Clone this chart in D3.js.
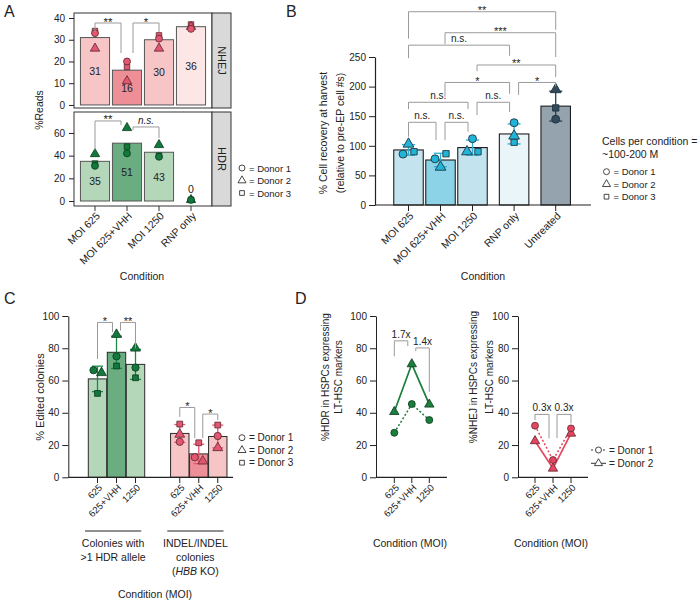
<!DOCTYPE html>
<html>
<head>
<meta charset="utf-8">
<script src="https://cdn.jsdelivr.net/npm/d3@7/dist/d3.min.js"></script>
<style>
html,body{margin:0;padding:0;background:#fff;}
svg{display:block;}
svg text{font-family:"Liberation Sans",Arial,Helvetica,sans-serif;fill:#222;}
</style>
</head>
<body>
<svg id="fig" width="700" height="602"></svg>
<script>
// ======================= DATA =======================
const donorLabels = ["= Donor 1", "= Donor 2", "= Donor 3"];

// ---- Panel A ----
const conditionsA = ["MOI 625", "MOI 625+VHH", "MOI 1250", "RNP only"];
const facetsA = ["NHEJ", "HDR"];
const nhejMeanA = [31, 16, 30, 36];
const nhejDonor1A = [33, 20, 30.5, 35];
const nhejDonor2A = [26, 11, 26, 36];
const nhejDonor3A = [34, 17.5, 32, 37];
const hdrMeanA = [35, 51, 43, 0];
const hdrDonor1A = [31, 42, 39, 1];
const hdrDonor2A = [41.5, 64.5, 49.5, 1];
const hdrDonor3A = [33, 48, 40, 1];
const nhejTicksA = [0, 10, 20, 30, 40];
const hdrTicksA = [0, 20, 40, 60];
// [from, to, bracket level, left leg end, right leg end, label]
const nhejSigA = [["MOI 625", "MOI 625+VHH", 37.7, 33.6, 23.9, "**"],
                  ["MOI 625+VHH", "MOI 1250", 37.7, 23.9, 33.6, "*"]];
const hdrSigA = [["MOI 625", "MOI 625+VHH", 70.6, 45, 67, "**"],
                 ["MOI 625+VHH", "MOI 1250", 65.3, 62.7, 55.6, "n.s."]];

// ---- Panel B ----
const conditionsB = ["MOI 625", "MOI 625+VHH", "MOI 1250", "RNP only", "Untreated"];
const groupsB = ["MOI", "MOI", "MOI", "RNP", "Untreated"];
const recoveryMeanB = [93, 76, 97, 120, 167];
const recoveryDonor1B = [86, 78, 112, 139, 145];
const recoveryDonor2B = [103, 64, 90, 116.6, 195];
const recoveryDonor3B = [90, 86.6, 90, 106, 164];
const ticksB = [0, 50, 100, 150, 200, 250];
const sigB = [
  ["MOI 625", "Untreated", 326.5, 281, 296, "**"],
  ["MOI 625+VHH", "Untreated", 291, 272, 250, "***"],
  ["MOI 625", "RNP only", 270, 248, 252, "n.s."],
  ["MOI 1250", "Untreated", 236.5, 226, 216, "**"],
  ["MOI 625+VHH", "RNP only", 207, 183, 188, "*"],
  ["RNP only", "Untreated", 207, 186, 200, "*"],
  ["MOI 625", "MOI 1250", 173.5, 162, 162, "n.s."],
  ["MOI 1250", "RNP only", 173.5, 152, 157, "n.s."],
  ["MOI 625", "MOI 625+VHH", 139.7, 115.4, 109.8, "n.s."],
  ["MOI 625+VHH", "MOI 1250", 139.7, 109.8, 123.8, "n.s."]
];
const legendTitleB = ["Cells per condition =", "~100-200 M"];

// ---- Panel C ----
const moiC = ["625", "625+VHH", "1250"];
const groupsC = ["HDR", "INDEL"];
const hdrMeanC = [61, 77.5, 70];
const hdrDonor1C = [66.4, 75, 68];
const hdrDonor2C = [64.8, 88.5, 80];
const hdrDonor3C = [52, 69, 61.7];
const indelMeanC = [27.2, 14.5, 25.3];
const indelDonor1C = [22, 12.4, 25.6];
const indelDonor2C = [26.6, 10, 18.3];
const indelDonor3C = [33, 21.4, 32.4];
const ticksC = [0, 20, 40, 60, 80, 100];
const hdrSigC = [["625", "625+VHH", 96, 73.3, 90, "*"], ["625+VHH", "1250", 96, 91, 80, "**"]];
const indelSigC = [["625", "625+VHH", 43.3, 37.5, 24.3, "*"], ["625+VHH", "1250", 39.2, 24.3, 35.5, "*"]];

// ---- Panel D ----
const moiD = ["625", "625+VHH", "1250"];
const hdrDonor1D = [27.6, 45.4, 35.5];
const hdrDonor2D = [40.6, 70.2, 45.2];
const nhejDonor1D = [32, 10.7, 30.3];
const nhejDonor2D = [22.5, 5.5, 27.2];
const ticksD = [0, 20, 40, 60, 80, 100];
const hdrFoldD = [["625", "625+VHH", 84.6, 75, 81.3, "1.7x"], ["625+VHH", "1250", 80.2, 78.2, 53, "1.4x"]];
const nhejFoldD = [["625", "625+VHH", 39, 35.5, 24.1, "0.3x"], ["625+VHH", "1250", 39, 24.3, 33.4, "0.3x"]];

// ======================= STYLE =======================
const INK = "#222";
const BR = "#9a9a9a";
const PAL = {
  nhejBar: ["#f7c5c6", "#ee8f97", "#f7c5c6", "#fde6e6"],
  hdrBar: ["#b4d7ba", "#6aad80", "#b4d7ba", "#e6f2e8"],
  pink: "#e2566f", green: "#12783c",
  pinkStroke: "#5b2630", greenStroke: "#0b3a1e",
  bBar: ["#c3e4ee", "#8dd3e7", "#c3e4ee", "#e9f5f9", "#95a3ae"],
  bPt: ["#22b4d6", "#22b4d6", "#22b4d6", "#22b4d6", "#34495a"],
  bErr: ["#2ab0d2", "#2ab0d2", "#2ab0d2", "#2ab0d2", "#2c3e50"],
  bStroke: "#1d3644",
  pinkErr: "#e8566f", greenErr: "#1b8a48",
  lineGreen: "#1a7f3c", linePink: "#e5455e"
};
const FS = { tick: 10, lab: 10.5, small: 9.5 };

const svg = d3.select("#fig");
const shapeTypes = [d3.symbolCircle, d3.symbolTriangle, d3.symbolSquare];
const shapeMul = [1, 1.0, 0.8];
const sym = (i, s) => d3.symbol().type(shapeTypes[i]).size(s * shapeMul[i])();

function txt(g, x, y, s, fs, o = {}) {
  const t = g.append("text").attr("x", x).attr("y", y).style("font-size", fs + "px").style("fill", INK).text(s);
  if (o.anchor) t.attr("text-anchor", o.anchor);
  if (o.base) t.attr("dominant-baseline", o.base);
  if (o.italic) t.style("font-style", "italic");
  return t;
}
function vtext(g, x, y, s, fs, rot = -90) {
  return g.append("text").attr("transform", `translate(${x},${y}) rotate(${rot})`)
    .attr("text-anchor", "middle").attr("dominant-baseline", "central")
    .style("font-size", fs + "px").style("fill", INK).text(s);
}
function rotLabels(g, cats, xf, y0, fs, dx) {
  cats.forEach(c => {
    g.append("text").attr("transform", `translate(${xf(c) + dx},${y0}) rotate(-45)`)
      .attr("text-anchor", "end").attr("dy", "0.35em").style("font-size", fs + "px").style("fill", INK).text(c);
  });
}
function brackets(g, list, xf, y, shift, o = {}) {
  const lefts = new Set(list.map(d => d[0])), rights = new Set(list.map(d => d[1]));
  list.forEach(([a, b, lev, la, lb, lab]) => {
    const x1 = xf(a) + (rights.has(a) ? shift : 0);
    const x2 = xf(b) - (lefts.has(b) ? shift : 0);
    g.append("path").attr("d", `M${x1},${y(la)}V${y(lev)}H${x2}V${y(lb)}`)
      .attr("fill", "none").attr("stroke", BR).attr("stroke-width", 1);
    const star = /^\*+$/.test(lab);
    txt(g, (x1 + x2) / 2, y(lev) + (star ? 2.5 : -3), lab, star ? (o.fsStar || 11) : (o.fsText || 10),
      { anchor: "middle", italic: !star && o.italic });
  });
}
function jitter(vals, y, thr, off) {
  const order = vals.map((v, i) => i).sort((a, b) => vals[b] - vals[a]);
  const offs = vals.map(() => 0);
  const clusters = []; let cur = [order[0]];
  for (let k = 1; k < order.length; k++) {
    if (Math.abs(y(vals[order[k]]) - y(vals[order[k - 1]])) < thr) cur.push(order[k]);
    else { clusters.push(cur); cur = [order[k]]; }
  }
  clusters.push(cur);
  clusters.forEach(c => { c.sort((a, b) => a - b); c.forEach((d, j) => offs[d] = (j - (c.length - 1) / 2) * off); });
  return offs;
}
function sd(a) { const m = d3.mean(a); return Math.sqrt(d3.sum(a, v => (v - m) ** 2) / (a.length - 1)); }
function styleAxis(g, fs) {
  g.selectAll("text").style("font-size", fs + "px").style("fill", INK);
  g.selectAll("line,path").style("stroke", INK);
}
function legendDonors(g, x, y0, step, fs, n = 3) {
  for (let i = 0; i < n; i++) {
    g.append("path").attr("d", sym(i, 28)).attr("transform", `translate(${x},${y0 + i * step})`)
      .attr("fill", "#fff").attr("stroke", "#333").attr("stroke-width", 0.9);
    txt(g, x + 7, y0 + i * step, donorLabels[i], fs, { base: "central" });
  }
}

// ======================= PANEL A =======================
const gA = svg.append("g");
txt(gA, 4, 17, "A", 16);
const xA = d3.scaleBand().domain(conditionsA).range([79, 207]).paddingInner(0.09).paddingOuter(0.045);
const cxA = c => xA(c) + xA.bandwidth() / 2;
const yNA = d3.scaleLinear().domain([-1.4, 42.3]).range([108, 13]);
const yHA = d3.scaleLinear().domain([-4.4, 78.5]).range([206, 112]);
const facetDefs = [
  { name: facetsA[0], y: yNA, mean: nhejMeanA, donors: [nhejDonor1A, nhejDonor2A, nhejDonor3A], ticks: nhejTicksA, sig: nhejSigA, bar: PAL.nhejBar, pt: PAL.pink, ps: PAL.pinkStroke },
  { name: facetsA[1], y: yHA, mean: hdrMeanA, donors: [hdrDonor1A, hdrDonor2A, hdrDonor3A], ticks: hdrTicksA, sig: hdrSigA, bar: PAL.hdrBar, pt: PAL.green, ps: PAL.greenStroke }
];
facetDefs.forEach(f => {
  const [yb, yt] = f.y.range();
  gA.selectAll(null).data(conditionsA).join("rect")
    .attr("x", c => xA(c)).attr("width", xA.bandwidth())
    .attr("y", (c, i) => f.y(f.mean[i])).attr("height", (c, i) => f.y(0) - f.y(f.mean[i]))
    .attr("fill", (c, i) => f.bar[i]).attr("stroke", (c, i) => f.mean[i] === 0 ? "#222" : "#555").attr("stroke-width", (c, i) => f.mean[i] === 0 ? 1.4 : 1);
  gA.selectAll(null).data(conditionsA).join("text")
    .attr("x", c => cxA(c)).attr("y", (c, i) => Math.min(f.y(f.mean[i] / 2), f.y(0) - 12))
    .attr("text-anchor", "middle").attr("dominant-baseline", "central").style("font-size", "10.5px").style("fill", INK)
    .text((c, i) => f.mean[i]);
  [2, 1, 0].forEach(d => {
    gA.selectAll(null).data(conditionsA).join("path")
      .attr("d", sym(d, 38)).attr("transform", (c, i) => `translate(${cxA(c)},${f.y(f.donors[d][i])})`)
      .attr("fill", f.pt).attr("stroke", f.ps).attr("stroke-width", 0.8);
  });
  gA.append("rect").attr("x", 74).attr("y", yt).attr("width", 138).attr("height", yb - yt)
    .attr("fill", "none").attr("stroke", "#333").attr("stroke-width", 1);
  gA.append("rect").attr("x", 212).attr("y", yt).attr("width", 19).attr("height", yb - yt)
    .attr("fill", "#d9d9d9").attr("stroke", "#333").attr("stroke-width", 1);
  vtext(gA, 221.5, (yt + yb) / 2, f.name, 11, 90);
  const ax = gA.append("g").attr("transform", "translate(74,0)")
    .call(d3.axisLeft(f.y).tickValues(f.ticks).tickSize(5).tickPadding(4));
  ax.select(".domain").remove();
  styleAxis(ax, FS.tick);
  brackets(gA, f.sig, cxA, f.y, 6, { italic: true, fsStar: 11.5, fsText: 10 });
});
conditionsA.forEach(c => gA.append("line").attr("x1", cxA(c)).attr("x2", cxA(c)).attr("y1", 206).attr("y2", 211).attr("stroke", "#333"));
rotLabels(gA, conditionsA, cxA, 214, 10.5, 3);
txt(gA, 142, 280, "Condition", FS.lab, { anchor: "middle" });
vtext(gA, 39, 110, "%Reads", 10.5);
legendDonors(gA, 242, 168, 12.5, FS.small);

// ======================= PANEL B =======================
const gB = svg.append("g");
txt(gB, 286, 17, "B", 16);
const yB = d3.scaleLinear().domain([0, 250]).range([205, 57]);
const slotB = []; { let g = 0; groupsB.forEach((gr, i) => { if (i > 0 && gr !== groupsB[i - 1]) g++; slotB.push(i + g * 0.3); }); }
const slotScaleB = d3.scaleLinear().domain([0, 1]).range([408.5, 440.5]);
const xB = d3.scaleOrdinal().domain(conditionsB).range(slotB.map(s => slotScaleB(s)));
const bwB = 29.5;
const donorsB = [recoveryDonor1B, recoveryDonor2B, recoveryDonor3B];
gB.selectAll(null).data(conditionsB).join("rect")
  .attr("x", c => xB(c) - bwB / 2).attr("width", bwB)
  .attr("y", (c, i) => yB(recoveryMeanB[i])).attr("height", (c, i) => yB(0) - yB(recoveryMeanB[i]))
  .attr("fill", (c, i) => PAL.bBar[i]).attr("stroke", "#1e1e1e").attr("stroke-width", 1.1);
conditionsB.forEach((c, i) => {
  const vals = donorsB.map(d => d[i]);
  const m = recoveryMeanB[i], s = sd(vals), x = xB(c);
  const col = PAL.bErr[i];
  gB.append("line").attr("x1", x).attr("x2", x).attr("y1", yB(m - s)).attr("y2", yB(m + s)).attr("stroke", col).attr("stroke-width", 1.3);
  [m - s, m + s].forEach(v => gB.append("line").attr("x1", x - 6.5).attr("x2", x + 6.5).attr("y1", yB(v)).attr("y2", yB(v)).attr("stroke", col).attr("stroke-width", 1.3));
  const offs = jitter(vals, yB, 5.8, 11);
  [2, 1, 0].forEach(d => gB.append("path").attr("d", sym(d, 50))
    .attr("transform", `translate(${x + offs[d]},${yB(vals[d])})`)
    .attr("fill", PAL.bPt[i]).attr("stroke", PAL.bStroke).attr("stroke-width", 0.9));
});
const axB = gB.append("g").attr("transform", "translate(375,0)")
  .call(d3.axisLeft(yB).tickValues(ticksB).tickSize(6).tickPadding(3).tickSizeOuter(0));
styleAxis(axB, FS.tick);
axB.select(".domain").attr("stroke-width", 1.2);
gB.append("line").attr("x1", 375).attr("x2", 591).attr("y1", 205).attr("y2", 205).attr("stroke", INK).attr("stroke-width", 1.2);
conditionsB.forEach(c => gB.append("line").attr("x1", xB(c)).attr("x2", xB(c)).attr("y1", 205).attr("y2", 211).attr("stroke", INK));
rotLabels(gB, conditionsB, xB, 214, 10.5, 3);
brackets(gB, sigB, xB, yB, 4.5, { fsStar: 11, fsText: 10 });
txt(gB, 483, 280, "Condition", FS.lab, { anchor: "middle" });
vtext(gB, 323, 133, "% Cell recovery at harvest", 10.5);
vtext(gB, 340, 133, "(relative to pre-EP cell #s)", 10.5);
txt(gB, 602, 141, legendTitleB[0], 10.5, { base: "central" });
txt(gB, 602, 153.5, legendTitleB[1], 10.5, { base: "central" });
legendDonors(gB, 606.5, 171.7, 12.5, FS.small);

// ======================= PANEL C =======================
const gC = svg.append("g");
txt(gC, 4, 304, "C", 16);
const yC = d3.scaleLinear().domain([0, 100]).range([477.3, 316]);
const slotScaleC = d3.scaleLinear().domain([0, 1]).range([97.5, 116.5]);
const xC = (grp, m) => slotScaleC(groupsC.indexOf(grp) * (moiC.length + 1.33) + moiC.indexOf(m));
const bwC = 18.4;
const defsC = [
  { grp: groupsC[0], mean: hdrMeanC, donors: [hdrDonor1C, hdrDonor2C, hdrDonor3C], bar: PAL.hdrBar, pt: PAL.green, ps: PAL.greenStroke, err: PAL.greenErr, sig: hdrSigC },
  { grp: groupsC[1], mean: indelMeanC, donors: [indelDonor1C, indelDonor2C, indelDonor3C], bar: PAL.nhejBar, pt: PAL.pink, ps: PAL.pinkStroke, err: PAL.pinkErr, sig: indelSigC }
];
defsC.forEach(f => {
  const xf = m => xC(f.grp, m);
  gC.selectAll(null).data(moiC).join("rect")
    .attr("x", m => xf(m) - bwC / 2).attr("width", bwC)
    .attr("y", (m, i) => yC(f.mean[i])).attr("height", (m, i) => yC(0) - yC(f.mean[i]))
    .attr("fill", (m, i) => f.bar[i]).attr("stroke", "#2a2a2a").attr("stroke-width", 1);
  moiC.forEach((m, i) => {
    const vals = f.donors.map(d => d[i]);
    const mu = f.mean[i], s = sd(vals), x = xf(m);
    gC.append("line").attr("x1", x).attr("x2", x).attr("y1", yC(mu - s)).attr("y2", yC(mu + s)).attr("stroke", f.err).attr("stroke-width", 1.3);
    [mu - s, mu + s].forEach(v => gC.append("line").attr("x1", x - 5.5).attr("x2", x + 5.5).attr("y1", yC(v)).attr("y2", yC(v)).attr("stroke", f.err).attr("stroke-width", 1.3));
    const offs = jitter(vals, yC, 5.8, 8);
    [2, 1, 0].forEach(d => gC.append("path").attr("d", sym(d, 42))
      .attr("transform", `translate(${x + offs[d]},${yC(vals[d])})`)
      .attr("fill", f.pt).attr("stroke", f.ps).attr("stroke-width", 0.8));
    gC.append("line").attr("x1", x).attr("x2", x).attr("y1", 477.3).attr("y2", 483).attr("stroke", INK);
  });
  brackets(gC, f.sig, xf, yC, 4, { fsStar: 11, fsText: 10 });
  rotLabels(gC, moiC, xf, 486, 9.5, 3);
  const x1 = xf(moiC[0]) - 12.5, x2 = xf(moiC[moiC.length - 1]) + 5.7;
  gC.append("line").attr("x1", x1).attr("x2", x2).attr("y1", 531).attr("y2", 531).attr("stroke", INK).attr("stroke-width", 1.2);
  const cx = (x1 + x2) / 2;
  if (f.grp === "HDR") {
    txt(gC, cx, 547, "Colonies with", FS.lab, { anchor: "middle" });
    txt(gC, cx, 561, ">1 HDR allele", FS.lab, { anchor: "middle" });
  } else {
    txt(gC, cx, 547, "INDEL/INDEL", FS.lab, { anchor: "middle" });
    txt(gC, cx, 561, "colonies", FS.lab, { anchor: "middle" });
    const t = txt(gC, cx, 575, "", FS.lab, { anchor: "middle" });
    t.append("tspan").text("(");
    t.append("tspan").style("font-style", "italic").text("HBB");
    t.append("tspan").text(" KO)");
  }
});
const axC = gC.append("g").attr("transform", "translate(68.3,0)")
  .call(d3.axisLeft(yC).tickValues(ticksC).tickSize(6).tickPadding(3).tickSizeOuter(0));
styleAxis(axC, FS.tick);
gC.append("line").attr("x1", 68.3).attr("x2", 233).attr("y1", 477.3).attr("y2", 477.3).attr("stroke", INK).attr("stroke-width", 1.2);
txt(gC, 155, 598, "Condition (MOI)", FS.lab, { anchor: "middle" });
vtext(gC, 40, 397, "% Edited colonies", 11);
legendDonors(gC, 242, 437.7, 12.5, 10);

// ======================= PANEL D =======================
const gD = svg.append("g");
txt(gD, 295, 304, "D", 16);
const yD = d3.scaleLinear().domain([0, 100]).range([477.3, 316]);
const defsD = [
  { ax: 376, xr: [394.3, 429.3], end: 447, d1: hdrDonor1D, d2: hdrDonor2D, col: PAL.lineGreen, ps: PAL.greenStroke, fold: hdrFoldD,
    lab: ["%HDR in HSPCs expressing", "LT-HSC markers"], lx: [325, 338], cx: 410 },
  { ax: 518, xr: [535, 571], end: 588, d1: nhejDonor1D, d2: nhejDonor2D, col: PAL.linePink, ps: PAL.pinkStroke, fold: nhejFoldD,
    lab: ["%NHEJ in HSPCs expressing", "LT-HSC markers"], lx: [473, 489], cx: 551 }
];
defsD.forEach(f => {
  const x = d3.scalePoint().domain(moiD).range(f.xr);
  const line = d3.line().x((v, i) => x(moiD[i])).y(v => yD(v));
  gD.append("path").attr("d", line(f.d1)).attr("fill", "none").attr("stroke", f.col).attr("stroke-width", 1.5).attr("stroke-dasharray", "2,2");
  gD.append("path").attr("d", line(f.d2)).attr("fill", "none").attr("stroke", f.col).attr("stroke-width", 1.7);
  [[f.d2, 1], [f.d1, 0]].forEach(([arr, s]) => arr.forEach((v, i) =>
    gD.append("path").attr("d", sym(s, 38)).attr("transform", `translate(${x(moiD[i])},${yD(v)})`)
      .attr("fill", f.col).attr("stroke", f.ps).attr("stroke-width", 0.8)));
  const ax = gD.append("g").attr("transform", `translate(${f.ax},0)`)
    .call(d3.axisLeft(yD).tickValues(ticksD).tickSize(6).tickPadding(3).tickSizeOuter(0));
  styleAxis(ax, FS.tick);
  gD.append("line").attr("x1", f.ax).attr("x2", f.end).attr("y1", 477.3).attr("y2", 477.3).attr("stroke", INK).attr("stroke-width", 1.2);
  moiD.forEach(m => gD.append("line").attr("x1", x(m)).attr("x2", x(m)).attr("y1", 477.3).attr("y2", 483).attr("stroke", INK));
  rotLabels(gD, moiD, x, 486, 9.5, 3);
  brackets(gD, f.fold, x, yD, 4, { fsText: 10 });
  vtext(gD, f.lx[0], 377, f.lab[0], 10);
  vtext(gD, f.lx[1], 377, f.lab[1], 10);
  txt(gD, f.cx, 547, "Condition (MOI)", FS.lab, { anchor: "middle" });
});
// legend D
[0, 1].forEach(i => {
  const yy = 450 + i * 13.3;
  gD.append("line").attr("x1", 591).attr("x2", 606).attr("y1", yy).attr("y2", yy).attr("stroke", "#333").attr("stroke-width", 1)
    .attr("stroke-dasharray", i === 0 ? "2,2" : null);
  gD.append("path").attr("d", sym(i, 28)).attr("transform", `translate(598.5,${yy})`).attr("fill", "#fff").attr("stroke", "#333").attr("stroke-width", 0.9);
  txt(gD, 609, yy, donorLabels[i], 10, { base: "central" });
});
</script>
</body>
</html>
